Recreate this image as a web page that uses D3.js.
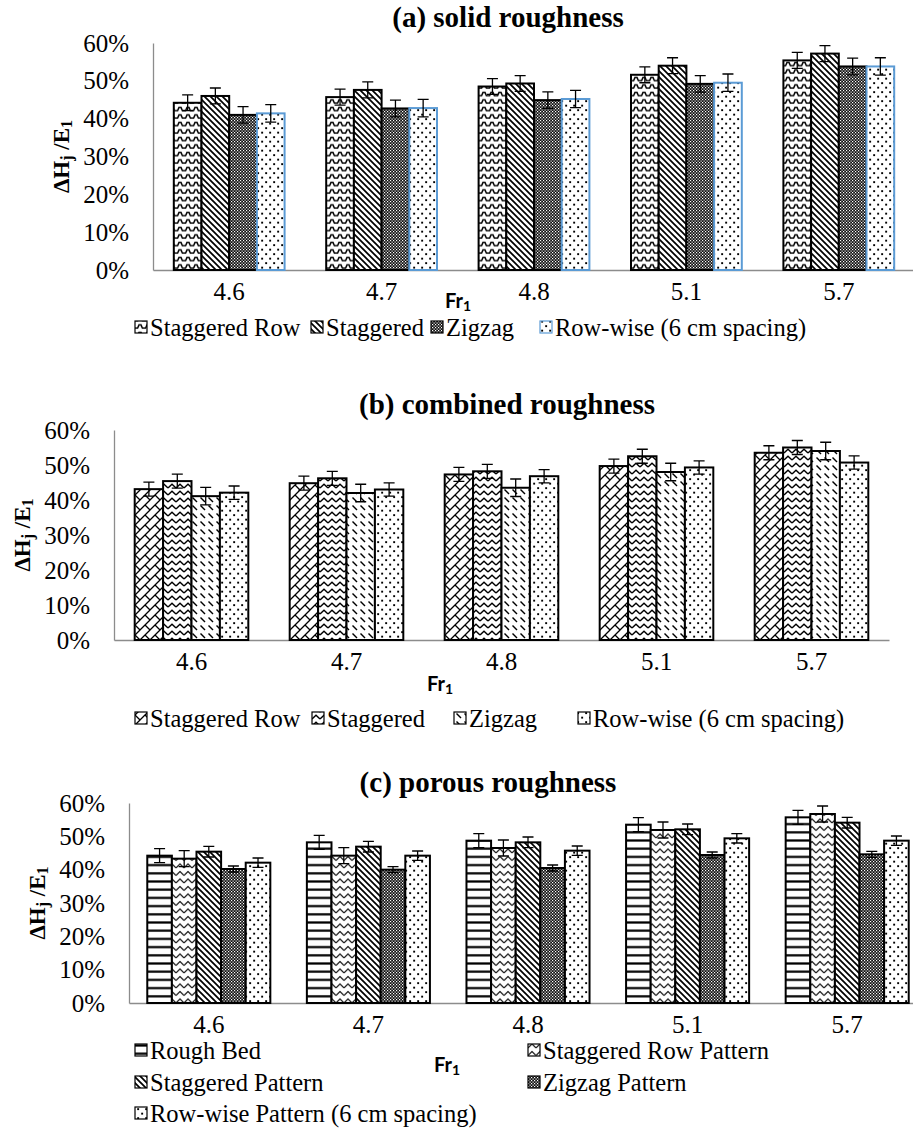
<!DOCTYPE html>
<html>
<head>
<meta charset="utf-8">
<script src="https://cdn.jsdelivr.net/npm/d3@7"></script>
<style>
  body { margin: 0; background: #fff; }
  svg { display: block; }
  text { fill: #000; }
</style>
</head>
<body>
<svg id="chart" width="913" height="1144"></svg>
<script>
// ---- data (percent) ----
const categories = ["4.6", "4.7", "4.8", "5.1", "5.7"];
const yTickValues = [0, 10, 20, 30, 40, 50, 60];

const solidSeries = ["Staggered Row", "Staggered", "Zigzag", "Row-wise (6 cm spacing)"];
const solidValues = [
  [44.2, 45.7, 48.5, 51.6, 55.4],
  [46.0, 47.6, 49.3, 54.0, 57.2],
  [41.0, 42.7, 44.9, 49.2, 53.8],
  [41.4, 42.8, 45.2, 49.5, 53.8]
];
const solidErrors = [2.1, 2.1, 2.2, 2.3];

const combinedSeries = ["Staggered Row", "Staggered", "Zigzag", "Row-wise (6 cm spacing)"];
const combinedValues = [
  [43.1, 44.8, 47.3, 49.7, 53.5],
  [45.4, 46.2, 48.2, 52.5, 55.0],
  [41.1, 42.0, 43.5, 48.0, 54.0],
  [42.1, 43.0, 46.8, 49.3, 50.7]
];
const combinedErrors = [2.0, 2.0, 2.5, 1.9];

const porousSeries = ["Rough Bed", "Staggered Row Pattern", "Staggered Pattern", "Zigzag Pattern", "Row-wise Pattern (6 cm spacing)"];
const porousValues = [
  [44.2, 48.2, 48.7, 53.5, 55.7],
  [43.3, 44.2, 46.5, 51.9, 56.7],
  [45.4, 46.9, 48.2, 52.1, 54.1],
  [40.2, 40.0, 40.5, 44.4, 44.6],
  [42.1, 44.2, 45.7, 49.4, 48.7]
];
const porousErrors = [2.1, 2.4, 1.6, 0.9, 1.4];

// ---- fill patterns ----
const svg = d3.select("#chart");
const defs = svg.append("defs");
const SERIF = "'Liberation Serif','Times New Roman',serif";

function makePattern(id, w, h, draw) {
  const p = defs.append("pattern")
    .attr("id", id)
    .attr("patternUnits", "userSpaceOnUse")
    .attr("width", w).attr("height", h);
  p.append("rect").attr("width", w).attr("height", h).attr("fill", "#fff");
  draw(p);
}
const line = (p, d, sw) =>
  p.append("path").attr("d", d).attr("fill", "none")
    .attr("stroke", "#000").attr("stroke-width", sw);

// wave
makePattern("wave", 8, 7.5, p =>
  line(p, "M0,5.6 L1.6,5.6 L3,2.4 L5,2.4 L6.4,5.6 L8,5.6", 1.5));
// wide downward diagonal
makePattern("wdiag", 6, 6, p =>
  line(p, "M-1,-1 L7,7 M-1,5 L1,7 M5,-1 L7,1", 1.7));
// small checker board
makePattern("checker", 3, 3, p => {
  p.append("rect").attr("width", 3).attr("height", 3).attr("fill", "#111");
  p.append("rect").attr("x", 0).attr("y", 0).attr("width", 1.2).attr("height", 1.2).attr("fill", "#fff");
  p.append("rect").attr("x", 1.5).attr("y", 1.5).attr("width", 1.2).attr("height", 1.2).attr("fill", "#fff");
});
// dotted
makePattern("dots", 8, 9, p => {
  p.append("rect").attr("x", 1.2).attr("y", 1.2).attr("width", 1.9).attr("height", 1.9).attr("fill", "#000");
  p.append("rect").attr("x", 5.2).attr("y", 5.7).attr("width", 1.9).attr("height", 1.9).attr("fill", "#000");
});
// diagonal brick
makePattern("brick", 10, 10, p =>
  line(p, "M0,10 L10,0 M5,5 L10,10 M-1,1 L1,-1 M9,11 L11,9", 1.3));
// zig zag
makePattern("zigzag", 8, 7, p =>
  line(p, "M0,5 L4,1.2 L8,5", 1.4));
// lighter zig zag
makePattern("zigzagLight", 8, 7.5, p =>
  line(p, "M0,5.5 L4,1.5 L8,5.5", 1.2));
// dashed downward diagonal
makePattern("dashdiag", 8, 8, p =>
  line(p, "M0.5,1.5 L5,6", 1.4));
// horizontal lines
makePattern("hlines", 8, 8.2, p =>
  p.append("rect").attr("x", 0).attr("y", 3).attr("width", 8).attr("height", 2.2).attr("fill", "#000"));

// ---- panels ----
const panels = [
  {
    title: "(a) solid roughness", titleX: 508, titleY: 17,
    left: 153, right: 915, top: 43, bottom: 270, groupFrac: 0.727,
    series: solidSeries, values: solidValues, errors: solidErrors,
    fills: ["wave", "wdiag", "checker", "dots"],
    strokes: ["#000", "#000", "#000", "#5B9BD5"],
    frX: 458, frY: 300,
    legend: [[135, 327], [311, 327], [431, 327], [540, 327]]
  },
  {
    title: "(b) combined roughness", titleX: 507, titleY: 404,
    left: 114, right: 889, top: 430, bottom: 640, groupFrac: 0.733,
    series: combinedSeries, values: combinedValues, errors: combinedErrors,
    fills: ["brick", "zigzag", "dashdiag", "dots"],
    strokes: ["#000", "#000", "#000", "#000"],
    frX: 440, frY: 683,
    legend: [[135, 718], [312, 718], [454, 718], [578, 718]]
  },
  {
    title: "(c) porous roughness", titleX: 488, titleY: 782,
    left: 129, right: 927, top: 803, bottom: 1003, groupFrac: 0.771,
    series: porousSeries, values: porousValues, errors: porousErrors,
    fills: ["hlines", "zigzagLight", "wdiag", "checker", "dots"],
    strokes: ["#000", "#000", "#000", "#000", "#000"],
    frX: 447, frY: 1064,
    legend: [[135, 1050], [528, 1050], [135, 1082], [528, 1082], [135, 1113]]
  }
];

const AXIS_GRAY = "#8c8c8c";

panels.forEach(P => {
  const g = svg.append("g");
  const x0 = d3.scaleBand().domain(categories).range([P.left, P.right]);
  const groupW = x0.bandwidth() * P.groupFrac;
  const x1 = d3.scaleBand().domain(d3.range(P.series.length)).range([0, groupW]);
  const y = d3.scaleLinear().domain([0, 60]).range([P.bottom, P.top]);

  // title
  g.append("text")
    .attr("x", P.titleX).attr("y", P.titleY)
    .attr("text-anchor", "middle").attr("dominant-baseline", "central")
    .style("font-family", SERIF).style("font-weight", "bold").style("font-size", "29px")
    .text(P.title);

  // y axis
  const yAxis = g.append("g").attr("transform", `translate(${P.left},0)`)
    .call(d3.axisLeft(y).tickValues(yTickValues).tickSize(0).tickSizeOuter(0)
      .tickPadding(24).tickFormat(d => d + "%"));
  yAxis.select(".domain").attr("stroke", AXIS_GRAY).attr("stroke-width", 1.3);
  yAxis.selectAll("text").style("font-family", SERIF).style("font-size", "25px").attr("fill", "#000");

  // x axis
  const xAxis = g.append("g").attr("transform", `translate(0,${P.bottom})`)
    .call(d3.axisBottom(x0).tickSize(0).tickSizeOuter(0).tickPadding(12));
  xAxis.select(".domain").attr("stroke", AXIS_GRAY).attr("stroke-width", 1.3);
  xAxis.selectAll("text").style("font-family", SERIF).style("font-size", "25px").attr("fill", "#000");

  // y axis title
  const yTitleX = P.left - 24 - 48 - 20;
  const yt = g.append("text")
    .attr("transform", `translate(${yTitleX},${(P.top + P.bottom) / 2}) rotate(-90)`)
    .attr("text-anchor", "middle").attr("dominant-baseline", "central")
    .style("font-family", SERIF).style("font-weight", "bold").style("font-size", "23px");
  yt.append("tspan").text("ΔH");
  yt.append("tspan").attr("dy", 5).style("font-size", "16px").text("j");
  yt.append("tspan").attr("dy", -5).text(" /E");
  yt.append("tspan").attr("dy", 5).style("font-size", "16px").text("1");

  // x axis title
  const xt = g.append("text")
    .attr("x", P.frX).attr("y", P.frY)
    .attr("text-anchor", "middle").attr("dominant-baseline", "central")
    .style("font-family", "Lato, 'Open Sans', sans-serif").style("font-weight", "bold").style("font-size", "20px");
  xt.append("tspan").text("Fr");
  xt.append("tspan").attr("dy", 5).style("font-size", "14px").text("1");

  // bars and error bars
  P.series.forEach((name, s) => {
    const sg = g.append("g");
    const bx = i => x0(categories[i]) + (x0.bandwidth() - groupW) / 2 + x1(s);
    sg.selectAll("rect").data(P.values[s]).join("rect")
      .attr("x", (d, i) => bx(i))
      .attr("y", d => y(d))
      .attr("width", x1.bandwidth())
      .attr("height", d => P.bottom - y(d))
      .attr("fill", `url(#${P.fills[s]})`)
      .attr("stroke", P.strokes[s]).attr("stroke-width", 2);

    const e = P.errors[s];
    sg.selectAll("path.err").data(P.values[s]).join("path")
      .attr("class", "err")
      .attr("d", (d, i) => {
        const c = bx(i) + x1.bandwidth() / 2, y1 = y(d + e), y2 = y(d - e);
        return `M${c},${y1}V${y2}M${c - 5.5},${y1}H${c + 5.5}M${c - 5.5},${y2}H${c + 5.5}`;
      })
      .attr("fill", "none").attr("stroke", "#000").attr("stroke-width", 1.3);
  });

  // legend
  P.series.forEach((name, s) => {
    const [lx, ly] = P.legend[s];
    g.append("rect")
      .attr("x", lx).attr("y", ly - 6).attr("width", 12).attr("height", 12)
      .attr("fill", `url(#${P.fills[s]})`)
      .attr("stroke", P.strokes[s]).attr("stroke-width", 1.2);
    g.append("text")
      .attr("x", lx + 15).attr("y", ly)
      .attr("dominant-baseline", "central")
      .style("font-family", SERIF).style("font-size", "24.5px")
      .text(name);
  });
});
</script>
</body>
</html>
